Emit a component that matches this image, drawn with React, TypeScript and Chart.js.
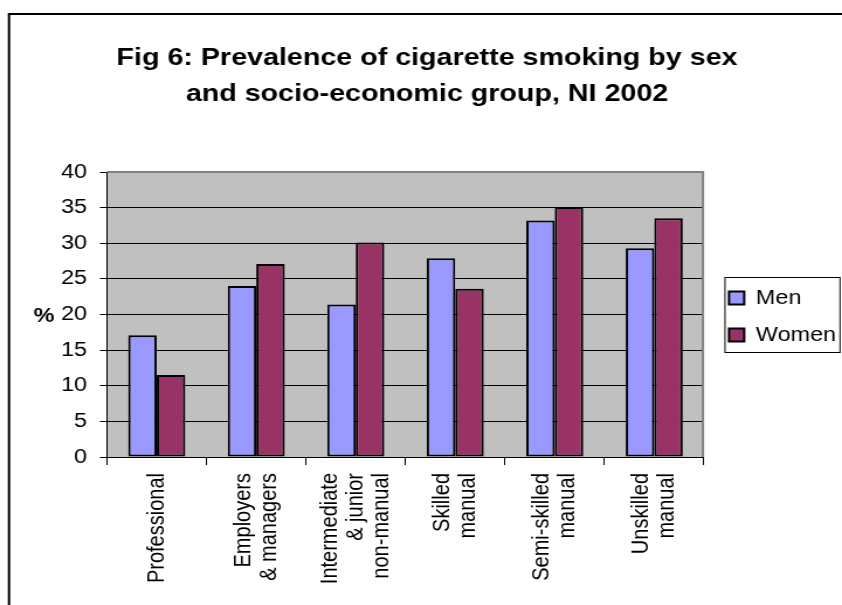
import React, { useEffect, useRef } from "react";
import { Chart, registerables } from "chart.js";

Chart.register(...registerables);

// ---- data ----
const TITLE_LINES = [
  "Fig 6: Prevalence of cigarette smoking by sex",
  "and socio-economic group, NI 2002",
];
const CATEGORIES = [
  ["Professional"],
  ["Employers", "& managers"],
  ["Intermediate", "& junior", "non-manual"],
  ["Skilled", "manual"],
  ["Semi-skilled", "manual"],
  ["Unskilled", "manual"],
];
const SERIES_NAMES = ["Men", "Women"];
const MEN = [17.1, 24.0, 21.4, 27.9, 33.2, 29.3];
const WOMEN = [11.5, 27.1, 30.1, 23.6, 35.1, 33.5];
const Y_MIN = 0;
const Y_MAX = 40;
const Y_STEP = 5;
const Y_LABEL = "%";

const FONT = "'Liberation Sans', Arial, Helvetica, sans-serif";
// The original (Excel) picture is stretched horizontally; the chart is laid
// out in a narrower canvas that is shown at the full page width.
const SCREEN_W = 842;
const H = 605;
const W = 720;
const SX = SCREEN_W / W;
const sx = (v: number) => v / SX;

// centre multi-line rotated tick labels on their category (half-height slots)
const MAX_LINES = 3;
const padLabel = (lines: string[]) => {
  const out: string[] = [];
  const lead = MAX_LINES - lines.length;
  for (let i = 0; i < lead; i++) out.push("");
  lines.forEach((l, i) => {
    if (i > 0) out.push("");
    out.push(l);
  });
  return out;
};

const excelPlugin = {
  id: "excelLook",
  afterLayout(chart: any) {
    const t = chart.titleBlock;
    if (t) {
      t.left = sx(12);
      t.right = W;
      t.width = W - sx(12);
    }
    const lg = chart.legend;
    if (lg) {
      lg.left = sx(729) - 17;
      lg.right = W;
      lg.width = W - lg.left;
      lg.top = 270;
      lg.bottom = 363;
      lg.height = 93;
    }
  },
  beforeDraw(chart: any) {
    const { ctx, chartArea: a } = chart;
    ctx.save();
    ctx.fillStyle = "#ffffff";
    ctx.fillRect(0, 0, chart.width, chart.height);
    // outer chart frame
    ctx.strokeStyle = "#000000";
    ctx.lineWidth = 2;
    ctx.beginPath();
    ctx.moveTo(sx(9), chart.height);
    ctx.lineTo(sx(9), 14);
    ctx.lineTo(chart.width, 14);
    ctx.stroke();
    // plot area background
    ctx.fillStyle = "#C0C0C0";
    ctx.fillRect(a.left, a.top, a.right - a.left, a.bottom - a.top);
    ctx.restore();
  },
  beforeDatasetsDraw(chart: any) {
    const { ctx, chartArea: a } = chart;
    ctx.save();
    ctx.strokeStyle = "#808080";
    ctx.lineWidth = 2;
    ctx.beginPath();
    ctx.moveTo(a.left, a.top);
    ctx.lineTo(a.right - 0.9, a.top);
    ctx.lineTo(a.right - 0.9, a.bottom);
    ctx.stroke();
    ctx.restore();
  },
  afterDraw(chart: any) {
    const { ctx, chartArea: a } = chart;
    ctx.save();
    const lg = chart.legend;
    if (lg) {
      ctx.strokeStyle = "#000000";
      ctx.lineWidth = 1;
      ctx.strokeRect(sx(725), 277.5, sx(840) - sx(725), 75);
    }
    ctx.fillStyle = "#000000";
    ctx.font = `bold 20px ${FONT}`;
    ctx.textAlign = "center";
    ctx.textBaseline = "middle";
    ctx.fillText(Y_LABEL, sx(44), (a.top + a.bottom) / 2 + 2);
    ctx.restore();
  },
};

export default function App() {
  const ref = useRef<HTMLCanvasElement | null>(null);

  useEffect(() => {
    if (!ref.current) return;
    const chart = new Chart(ref.current, {
      type: "bar",
      data: {
        labels: CATEGORIES,
        datasets: [
          {
            label: SERIES_NAMES[0],
            data: MEN,
            backgroundColor: "#9999FF",
            borderColor: "#000000",
            borderWidth: 2,
            borderSkipped: false,
            barPercentage: 1,
            categoryPercentage: 0.573,
          },
          {
            label: SERIES_NAMES[1],
            data: WOMEN,
            backgroundColor: "#993366",
            borderColor: "#000000",
            borderWidth: 2,
            borderSkipped: false,
            barPercentage: 1,
            categoryPercentage: 0.573,
          },
        ],
      },
      options: {
        responsive: false,
        animation: false,
        layout: { padding: { left: 0, right: W - sx(704), top: 0, bottom: 0 } },
        plugins: {
          title: {
            display: true,
            text: TITLE_LINES,
            color: "#000000",
            font: { family: FONT, size: 24.5, weight: "bold", lineHeight: 1.5 },
            padding: { top: 39.5, bottom: 59 },
          },
          legend: {
            position: "chartArea",
            align: "center",
            labels: {
              boxWidth: 13,
              boxHeight: 13,
              padding: 17,
              color: "#000000",
              font: { family: FONT, size: 20 },
            },
          },
          tooltip: { enabled: false },
        },
        scales: {
          x: {
            offset: true,
            grid: {
              offset: true,
              drawOnChartArea: false,
              drawTicks: true,
              tickLength: 8,
              color: "#000000",
              tickColor: "#000000",
            },
            border: { display: true, color: "#000000", width: 1 },
            ticks: {
              autoSkip: false,
              maxRotation: 90,
              minRotation: 90,
              padding: 8,
              labelOffset: -22,
              color: "#000000",
              font: { family: FONT, size: 20, lineHeight: 0.55 },
              callback: (_v: any, i: number) => padLabel(CATEGORIES[i]),
            },
            afterFit: (s: any) => {
              s.height = H - 457;
            },
          },
          y: {
            min: Y_MIN,
            max: Y_MAX,
            ticks: {
              stepSize: Y_STEP,
              padding: 11,
              color: "#000000",
              font: { family: FONT, size: 20 },
            },
            grid: {
              color: (c: any) => (c.tick && c.tick.value === Y_MAX ? "#808080" : "#000000"),
              tickColor: "#000000",
              tickLength: 6,
              lineWidth: 1,
            },
            border: { display: true, color: "#000000", width: 1 },
            afterFit: (s: any) => {
              s.width = sx(107);
            },
          },
        },
      },
      plugins: [excelPlugin],
    });
    return () => chart.destroy();
  }, []);

  return (
    <div style={{ position: "absolute", left: 0, top: 0, width: SCREEN_W, height: H }}>
      <canvas
        ref={ref}
        width={W}
        height={H}
        style={{ display: "block", width: `${SCREEN_W}px`, height: `${H}px` }}
      />
    </div>
  );
}
